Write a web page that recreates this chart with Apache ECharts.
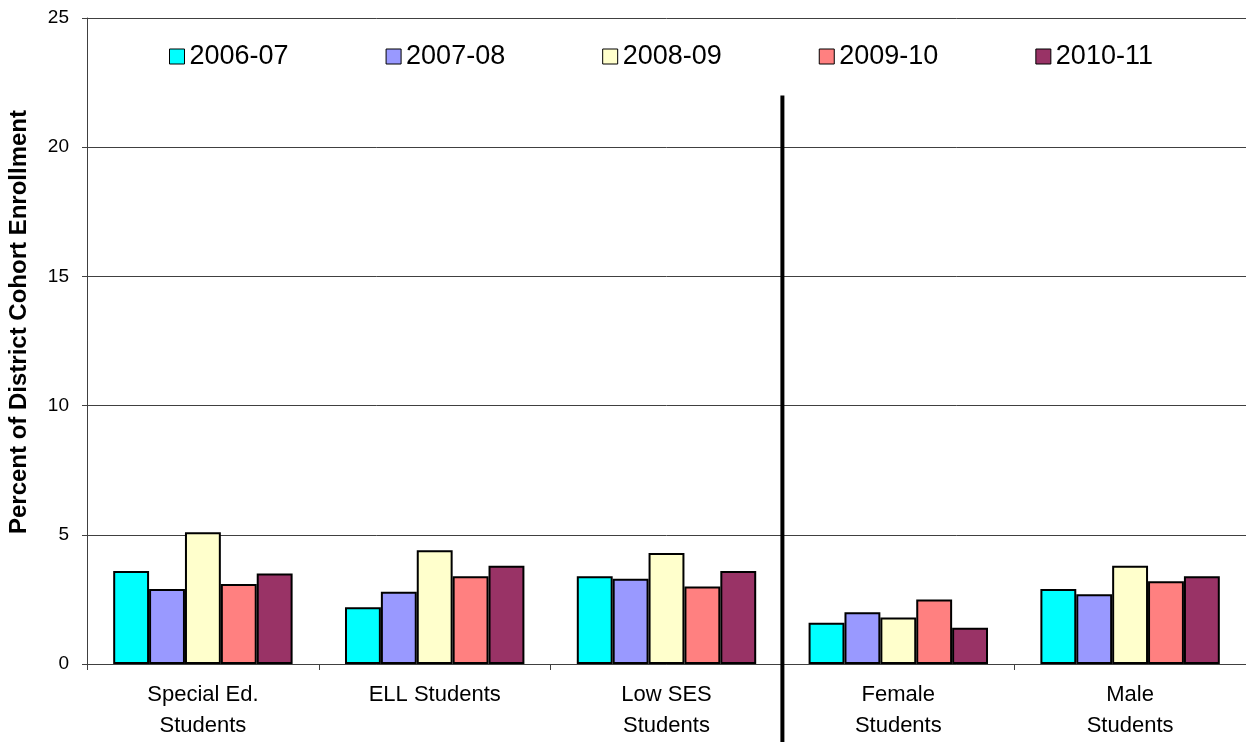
<!DOCTYPE html>
<html>
<head>
<meta charset="utf-8">
<script src="https://cdn.jsdelivr.net/npm/echarts@6/dist/echarts.min.js"></script>
<style>html,body{margin:0;padding:0;background:#fff}#c{width:1246px;height:742px}</style>
</head>
<body>
<div id="c"></div>
<script>
const categories = ['Special Ed.\nStudents', 'ELL Students', 'Low SES\nStudents', 'Female\nStudents', 'Male\nStudents'];
const years = ['2006-07', '2007-08', '2008-09', '2009-10', '2010-11'];
const colors = ['#00FFFF', '#9999FF', '#FFFFCC', '#FF8080', '#993366'];
const v2006 = [3.6, 2.2, 3.4, 1.6, 2.9];
const v2007 = [2.9, 2.8, 3.3, 2.0, 2.7];
const v2008 = [5.1, 4.4, 4.3, 1.8, 3.8];
const v2009 = [3.1, 3.4, 3.0, 2.5, 3.2];
const v2010 = [3.5, 3.8, 3.6, 1.4, 3.4];
const yTicks = [0, 5, 10, 15, 20, 25];
const yTitle = 'Percent of District Cohort Enrollment';
const separatorTop = 22;

const values = [v2006, v2007, v2008, v2009, v2010];
const font = 'Arial, "Liberation Sans", sans-serif';
const chart = echarts.init(document.getElementById('c'), null, {renderer: 'canvas'});
chart.setOption({
  animation: false,
  backgroundColor: '#fff',
  grid: {left: 87, right: -3, top: 18, bottom: 78},
  legend: {
    data: years, icon: 'rect', left: 164, top: 38, itemWidth: 15, itemHeight: 15, itemGap: 97,
    textStyle: {fontSize: 27, fontFamily: font, color: '#000'},
    itemStyle: {borderColor: '#000', borderWidth: 1}
  },
  xAxis: {
    type: 'category', data: categories,
    axisLine: {lineStyle: {color: '#404040', width: 1}},
    axisTick: {show: true, length: 6, lineStyle: {color: '#404040'}},
    axisLabel: {fontSize: 22, fontFamily: font, color: '#000', lineHeight: 31, margin: 15}
  },
  yAxis: {
    type: 'value', min: yTicks[0], max: yTicks[yTicks.length - 1], interval: 5,
    axisLine: {show: true, lineStyle: {color: '#404040', width: 1}},
    axisTick: {show: true, length: 5, lineStyle: {color: '#404040'}},
    splitLine: {lineStyle: {color: '#404040', width: 1}},
    axisLabel: {fontSize: 19, fontFamily: font, color: '#000', margin: 18}
  },
  series: years.map((y, i) => ({
    name: y, type: 'bar', data: values[i],
    barGap: '0%', barCategoryGap: '22.6%',
    itemStyle: {color: colors[i], borderColor: '#000', borderWidth: 2}
  }))
});

function drawExtras() {
  const a = chart.convertToPixel({xAxisIndex: 0}, categories[2]);
  const b = chart.convertToPixel({xAxisIndex: 0}, categories[3]);
  const x = (a + b) / 2;
  const yTop = chart.convertToPixel({yAxisIndex: 0}, separatorTop);
  chart.setOption({
    graphic: [
      {type: 'line', shape: {x1: x, y1: yTop, x2: x, y2: 742}, style: {stroke: '#000', lineWidth: 4}, z: 100},
      {type: 'text', x: 19, y: 322, rotation: Math.PI / 2,
       style: {text: yTitle, font: 'bold 24px ' + font, fill: '#000', align: 'center', verticalAlign: 'middle'}}
    ]
  });
}
drawExtras();
</script>
</body>
</html>
